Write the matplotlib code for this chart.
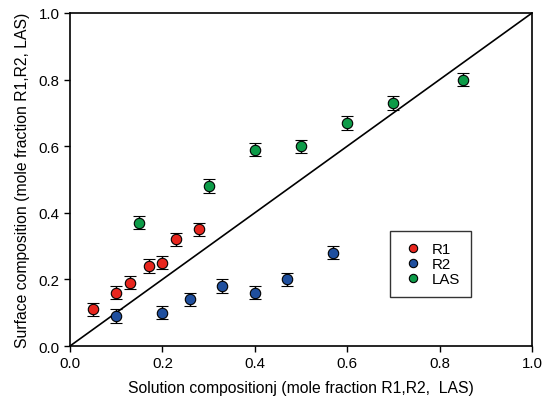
import matplotlib
matplotlib.use('Agg')
from matplotlib import pyplot as plt
from matplotlib.lines import Line2D

plt.rcParams['font.family'] = ['Liberation Sans', 'DejaVu Sans']

r1_x = [0.05, 0.10, 0.13, 0.17, 0.20, 0.23, 0.28]
r1_y = [0.11, 0.16, 0.19, 0.24, 0.25, 0.32, 0.35]
r2_x = [0.10, 0.20, 0.26, 0.33, 0.40, 0.47, 0.57]
r2_y = [0.09, 0.10, 0.14, 0.18, 0.16, 0.20, 0.28]
las_x = [0.15, 0.30, 0.40, 0.50, 0.60, 0.70, 0.85]
las_y = [0.37, 0.48, 0.59, 0.60, 0.67, 0.73, 0.80]
err = 0.02

fig = plt.figure(figsize=(5.46, 4.02), dpi=100)
ax = fig.add_axes([0.1282, 0.1368, 0.8462, 0.8284])

ax.plot([0, 1], [0, 1], color='black', lw=1.2)

series = [(r1_x, r1_y, '#e8261e', 'R1'),
          (r2_x, r2_y, '#1f4f9e', 'R2'),
          (las_x, las_y, '#0d9b48', 'LAS')]
handles = []
for xs, ys, c, lab in series:
    ax.errorbar(xs, ys, yerr=err, fmt='o', color=c, ecolor='black', elinewidth=1,
                capsize=4.5, capthick=1, markersize=7.5, markeredgecolor='black',
                markeredgewidth=0.8)
    handles.append(Line2D([], [], ls='none', marker='o', color=c, markersize=6,
                          markeredgecolor='black', markeredgewidth=0.8, label=lab))

ax.set_xlim(0, 1)
ax.set_ylim(0, 1)
ax.set_xticks([0, 0.2, 0.4, 0.6, 0.8, 1.0])
ax.set_yticks([0, 0.2, 0.4, 0.6, 0.8, 1.0])
ax.xaxis.set_major_formatter(matplotlib.ticker.FormatStrFormatter('%.1f'))
ax.yaxis.set_major_formatter(matplotlib.ticker.FormatStrFormatter('%.1f'))
ax.tick_params(labelsize=10.8, length=4, width=1)
for s in ax.spines.values():
    s.set_linewidth(1.2)

ax.set_xlabel('Solution compositionj (mole fraction R1,R2,  LAS)', fontsize=11.3, labelpad=7)
ax.set_ylabel('Surface composition (mole fraction R1,R2, LAS)', fontsize=11.3, labelpad=6)

leg = ax.legend(handles=handles, loc='upper left', bbox_to_anchor=(0.693, 0.345),
                borderaxespad=0, fancybox=False, edgecolor='black', fontsize=10.8,
                handletextpad=0.5, borderpad=0.75, labelspacing=0.05, handlelength=1.5)
leg.get_frame().set_linewidth(1)

fig.savefig('out.png', dpi=100)
